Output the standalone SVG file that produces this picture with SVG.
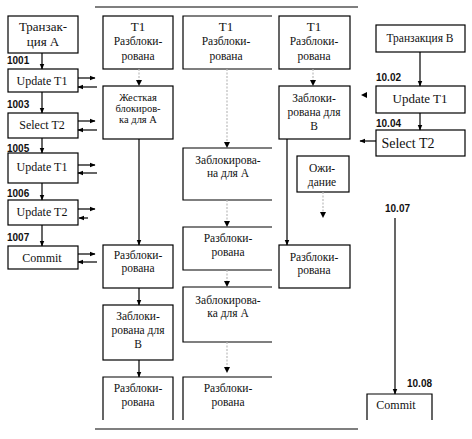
<svg xmlns="http://www.w3.org/2000/svg" width="472" height="439" viewBox="0 0 472 439">
<defs>
<marker id="ah" viewBox="0 0 10 10" refX="9" refY="5" markerWidth="6" markerHeight="6" orient="auto" markerUnits="userSpaceOnUse"><path d="M0,1 L10,5 L0,9 z" fill="#000"/></marker>
</defs>
<style>
.b{fill:#fff;stroke:#000;stroke-width:1.2}
.o{fill:none;stroke:#000;stroke-width:1.2}
.t{font-size:11.5px;fill:#111;text-anchor:middle}
.s{font-size:10.5px}
.l{font-size:10px;font-weight:bold;fill:#111}
.c{stroke:#000;stroke-width:1.2;fill:none}
.d{stroke:#bbb;stroke-width:1.2;fill:none;stroke-dasharray:2 1.5}
.h{fill:#000}
</style>
<rect width="472" height="439" fill="#fff"/>
<g id="frame">
<line x1="95" y1="7" x2="358" y2="7" class="c"/>
<line x1="95" y1="429" x2="358" y2="429" class="c"/>
</g>
<g font-family="'Liberation Serif', 'Times New Roman', serif">
<g id="txA"><rect x="8" y="16" width="70" height="37" class="b"/><text class="t" style="font-size:13px" x="43" y="31">Транзак-</text><text class="t" style="font-size:13px" x="43" y="46">ция  А</text></g>
<g id="a_up1"><rect x="8" y="69" width="70" height="23" class="b"/><text class="t" style="font-size:12px" x="42" y="85">Update T1</text></g>
<g id="a_sel"><rect x="8" y="113" width="70" height="25" class="b"/><text class="t" style="font-size:12px" x="42" y="129">Select  T2</text></g>
<g id="a_up1b"><rect x="8" y="153" width="70" height="30" class="b"/><text class="t" style="font-size:12px" x="42" y="171">Update T1</text></g>
<g id="a_up2"><rect x="8" y="200" width="70" height="25" class="b"/><text class="t" style="font-size:12px" x="42" y="216">Update T2</text></g>
<g id="a_com"><rect x="8" y="246" width="70" height="23" class="b"/><text class="t" style="font-size:12px" x="42" y="262">Commit</text></g>

<g id="c1n1"><rect x="103" y="16" width="70" height="53" class="b"/><text class="t" style="font-size:13px" x="138" y="31">T1</text><text class="t" x="138" y="45">Разблоки-</text><text class="t" x="138" y="60">рована</text></g>
<g id="c1n2"><rect x="103" y="86" width="70" height="53" class="b"/><text class="t s" x="138" y="101">Жесткая</text><text class="t s" x="138" y="112">блокиров-</text><text class="t s" x="138" y="123">ка для А</text></g>
<g id="c1n3"><rect x="103" y="245" width="70" height="43" class="b"/><text class="t" x="138" y="259">Разблоки-</text><text class="t" x="138" y="272">рована</text></g>
<g id="c1n4"><rect x="103" y="305" width="70" height="55" class="b"/><text class="t" x="138" y="320">Заблоки-</text><text class="t" x="138" y="334">рована для</text><text class="t" x="138" y="348">В</text></g>
<g id="c1n5"><path d="M103,420 V377 H173 V420" class="o"/><text class="t" x="138" y="392">Разблоки-</text><text class="t" x="138" y="406">рована</text></g>

<g id="c2n1"><path d="M272,16 H183 V69 H272" class="o"/><text class="t" style="font-size:13px" x="226" y="31">T1</text><text class="t" x="226" y="45">Разблоки-</text><text class="t" x="226" y="60">рована</text></g>
<g id="c2n2"><path d="M272,148 H183 V200 H272" class="o"/><text class="t" x="228" y="164">Заблокирова-</text><text class="t" x="228" y="177">на для А</text></g>
<g id="c2n3"><path d="M272,227 H183 V270 H272" class="o"/><text class="t" x="228" y="242">Разблоки-</text><text class="t" x="228" y="256">рована</text></g>
<g id="c2n4"><path d="M272,287 H183 V342 H272" class="o"/><text class="t" x="228" y="304">Заблокирова-</text><text class="t" x="228" y="317">ка для А</text></g>
<g id="c2n5"><path d="M183,420 V377 H272" class="o"/><text class="t" x="228" y="392">Разблоки-</text><text class="t" x="228" y="406">рована</text></g>

<g id="c3n1"><rect x="279" y="16" width="71" height="53" class="b"/><text class="t" style="font-size:13px" x="314" y="31">T1</text><text class="t" x="314" y="45">Разблоки-</text><text class="t" x="314" y="60">рована</text></g>
<g id="c3n2"><rect x="279" y="86" width="71" height="53" class="b"/><text class="t" x="314" y="102">Заблоки-</text><text class="t" x="314" y="116">рована для</text><text class="t" x="314" y="130">В</text></g>
<g id="c3n3"><rect x="297" y="156" width="52" height="36" class="b"/><text class="t" x="322" y="172">Ожи-</text><text class="t" x="322" y="186">дание</text></g>
<g id="c3n4"><rect x="279" y="245" width="71" height="43" class="b"/><text class="t" x="314" y="261">Разблоки-</text><text class="t" x="314" y="274">рована</text></g>

<g id="txB"><rect x="376" y="25" width="89" height="27" class="b"/><text class="t" x="420" y="42">Транзакция В</text></g>
<g id="b_up1"><rect x="376" y="86" width="89" height="27" class="b"/><text class="t" style="font-size:13px" x="420" y="103">Update T1</text></g>
<g id="b_sel"><rect x="376" y="130" width="89" height="26" class="b"/><text class="t" style="font-size:14px" x="408" y="148">Select  T2</text></g>
<g id="b_com"><path d="M367,420 V394 H432 V420" class="o"/><text class="t" style="font-size:12px" x="396" y="409">Commit</text></g>
</g>

<g id="labels" font-family="'Liberation Sans', Arial, sans-serif">
<text class="l" x="7" y="64">1001</text>
<text class="l" x="7" y="108">1003</text>
<text class="l" x="7" y="152">1005</text>
<text class="l" x="7" y="197">1006</text>
<text class="l" x="7" y="241">1007</text>
<text class="l" x="376" y="81">10.02</text>
<text class="l" x="376" y="127">10.04</text>
<text class="l" x="385" y="212">10.07</text>
<text class="l" x="407" y="387">10.08</text>
</g>

<g id="connectors">
<line x1="42" y1="53" x2="42" y2="69" class="c" marker-end="url(#ah)"/>
<line x1="42" y1="92" x2="42" y2="113" class="c" marker-end="url(#ah)"/>
<line x1="42" y1="138" x2="42" y2="153" class="c" marker-end="url(#ah)"/>
<line x1="42" y1="183" x2="42" y2="200" class="c" marker-end="url(#ah)"/>
<line x1="42" y1="225" x2="42" y2="246" class="c" marker-end="url(#ah)"/>

<line x1="78" y1="78" x2="95" y2="78" class="c" marker-end="url(#ah)"/>
<line x1="97" y1="87" x2="78" y2="87" class="c" marker-end="url(#ah)"/>
<line x1="78" y1="121" x2="95" y2="121" class="c" marker-end="url(#ah)"/>
<line x1="97" y1="130" x2="78" y2="130" class="c" marker-end="url(#ah)"/>
<line x1="78" y1="165" x2="95" y2="165" class="c" marker-end="url(#ah)"/>
<line x1="97" y1="173" x2="78" y2="173" class="c" marker-end="url(#ah)"/>
<line x1="78" y1="209" x2="95" y2="209" class="c" marker-end="url(#ah)"/>
<line x1="88" y1="218" x2="79" y2="218" class="c" marker-end="url(#ah)"/>
<line x1="78" y1="254" x2="95" y2="254" class="c" marker-end="url(#ah)"/>
<line x1="97" y1="262" x2="78" y2="262" class="c" marker-end="url(#ah)"/>

<line x1="139" y1="69" x2="139" y2="80" class="d"/><path d="M136,80 L142,80 L139,86 z" class="h"/>
<line x1="139" y1="139" x2="139" y2="245" class="c" marker-end="url(#ah)"/>
<line x1="139" y1="288" x2="139" y2="305" class="c" marker-end="url(#ah)"/>
<line x1="139" y1="360" x2="139" y2="377" class="c" marker-end="url(#ah)"/>

<line x1="227" y1="69" x2="227" y2="142" class="d"/><path d="M224,142 L230,142 L227,148 z" class="h"/>
<line x1="227" y1="200" x2="227" y2="221" class="d"/><path d="M224,221 L230,221 L227,227 z" class="h"/>
<line x1="227" y1="270" x2="227" y2="281" class="d"/><path d="M224,281 L230,281 L227,287 z" class="h"/>
<line x1="227" y1="342" x2="227" y2="367" class="d"/><path d="M224,367 L230,367 L227,373 z" class="h"/>

<line x1="313" y1="69" x2="313" y2="80" class="d"/><path d="M310,80 L316,80 L313,86 z" class="h"/>
<line x1="287" y1="139" x2="287" y2="245" class="c" marker-end="url(#ah)"/>
<line x1="323" y1="192" x2="323" y2="212" class="d"/><path d="M320,212 L326,212 L323,218 z" class="h"/>

<line x1="420" y1="52" x2="420" y2="86" class="c" marker-end="url(#ah)"/>
<line x1="420" y1="113" x2="420" y2="130" class="c" marker-end="url(#ah)"/>
<path d="M367,92 L367,98 L361,95 z" class="h"/>
<line x1="376" y1="141" x2="360" y2="141" class="c" marker-end="url(#ah)"/>
<line x1="395" y1="218" x2="395" y2="394" class="c" marker-end="url(#ah)"/>
</g>
</svg>
